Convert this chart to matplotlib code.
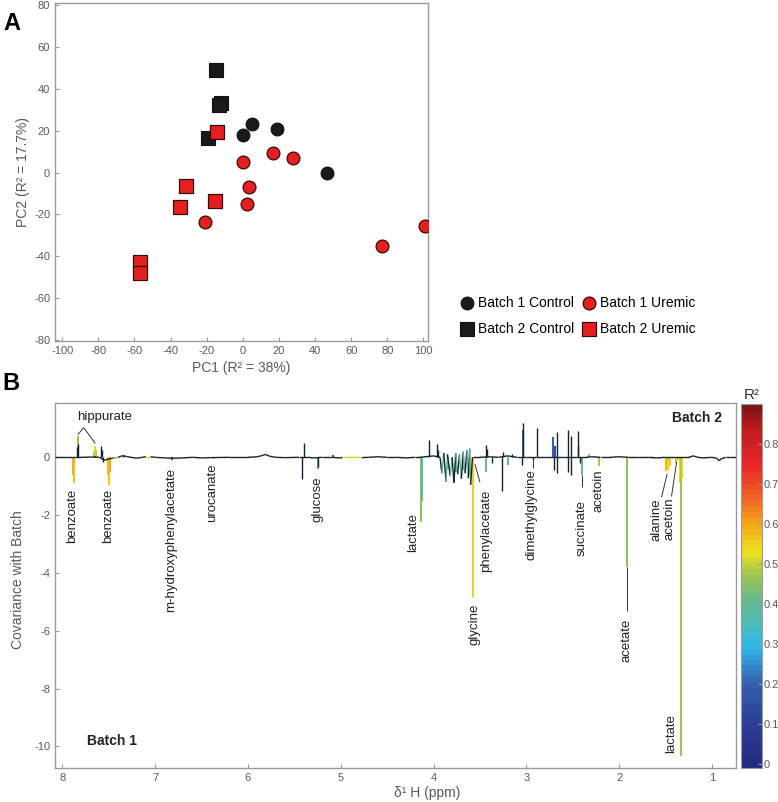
import numpy as np
import matplotlib
matplotlib.use('Agg')
import matplotlib.pyplot as plt
from matplotlib.colors import LinearSegmentedColormap, Normalize
from matplotlib.collections import LineCollection
from matplotlib.cm import ScalarMappable

plt.rcParams['font.family'] = ['Liberation Sans', 'DejaVu Sans']
plt.rcParams['axes.unicode_minus'] = False

# ---- panel A: PCA scores ----
b1_ctrl_pc1 = [0, 5, 19, 46.5]
b1_ctrl_pc2 = [18, 23, 20.5, 0]
b1_ure_pc1 = [-21, 0, 3.5, 2.5, 16.5, 27.5, 77, 101]
b1_ure_pc2 = [-23.5, 5, -7, -15, 9.5, 7, -35, -25.5]
b2_ctrl_pc1 = [-15, -12, -13, -19.5]
b2_ctrl_pc2 = [49, 33, 32, 16.5]
b2_ure_pc1 = [-14.5, -31.5, -35, -15.5, -57, -57]
b2_ure_pc2 = [19.5, -6.5, -16.5, -13.5, -42.5, -48]

# ---- panel B: covariance spectrum (ppm, covariance, R2) ----
peak_ppm = [7.89, 7.88, 7.87, 7.835, 7.83, 7.845, 7.655, 7.645, 7.635, 7.646,
            7.585, 7.575, 7.565, 7.51, 7.50, 7.49, 7.43, 7.35, 6.82, 6.37,
            5.42, 5.40, 5.25, 5.245, 5.085,
            4.14, 4.13, 4.12, 4.05, 3.96, 3.95, 3.84, 3.76, 3.68, 3.61,
            3.575, 3.57, 3.435, 3.43, 3.42, 3.37, 3.265, 3.25, 3.20, 3.15,
            3.04, 3.035, 3.05, 2.925, 2.88, 2.71, 2.705, 2.69, 2.67, 2.665,
            2.555, 2.55, 2.52, 2.515, 2.44, 2.445, 2.425, 2.40, 2.32, 2.22,
            1.92, 1.64, 1.49, 1.475, 1.455, 1.39, 1.37, 1.34, 1.33, 1.32]
peak_cov = [-0.6, -0.89, -0.5, 0.74, 0.45, 0.35, 0.2, 0.4, 0.25, 0.06,
            0.4, 0.25, -0.15, -0.6, -0.97, -0.5, -0.06, 0.08, -0.1, -0.05,
            -0.76, 0.51, -0.42, -0.35, 0.08,
            -1.2, -2.25, -1.5, 0.59, 0.47, 0.25, -0.4, -0.5, -0.45, -0.6,
            -1.0, -4.85, 0.42, -0.5, 0.3, -0.2, -1.15, 0.2, -0.25, 0.1,
            1.2, 0.95, -0.25, -0.1, 1.02, 0.71, -0.45, 0.4, 0.88, -0.54,
            0.94, -0.5, 0.73, -0.6, 0.9, 0.4, -0.2, -0.62, 0.1, -0.31,
            -3.81, 0.05, -0.49, -0.45, -0.3, -0.2, -0.1, -0.9, -10.35, -0.7]
peak_r2 = [0.6, 0.57, 0.58, 0.47, 0.0, 0.0, 0.45, 0.52, 0.5, 0.75,
           0.0, 0.0, 0.0, 0.58, 0.57, 0.6, 0.45, 0.0, 0.75, 0.55,
           0.0, 0.0, 0.42, 0.0, 0.75,
           0.52, 0.45, 0.4, 0.0, 0.0, 0.0, 0.4, 0.4, 0.42, 0.45,
           0.62, 0.55, 0.0, 0.42, 0.0, 0.0, 0.0, 0.0, 0.42, 0.0,
           0.0, 0.2, 0.0, 0.0, 0.0, 0.2, 0.0, 0.15, 0.0, 0.0,
           0.0, 0.0, 0.0, 0.0, 0.0, 0.0, 0.0, 0.42, 0.45, 0.48,
           0.45, 0.55, 0.58, 0.55, 0.55, 0.5, 0.55, 0.53, 0.47, 0.55]

base_ppm = [8.08, 7.95, 7.9, 7.86, 7.8, 7.7, 7.6, 7.55, 7.45, 7.4, 7.35, 7.3,
            7.2, 7.1, 7.05, 7.0, 6.9, 6.8, 6.7, 6.6, 6.5, 6.4, 6.2, 6.0,
            5.9, 5.85, 5.81, 5.77, 5.7, 5.6, 5.45, 5.35, 5.3, 5.2, 5.1, 5.0,
            4.98, 4.85, 4.77, 4.7, 4.6, 4.5, 4.4, 4.3, 4.2, 4.15, 4.0,
            3.93, 3.91, 3.89, 3.865, 3.85, 3.82, 3.80, 3.78, 3.76, 3.74,
            3.72, 3.70, 3.68, 3.66, 3.64, 3.625, 3.61, 3.60, 3.58,
            3.5, 3.4, 3.3, 3.2, 3.1, 3.0, 2.9, 2.8, 2.6, 2.45, 2.35, 2.3,
            2.2, 2.1, 2.0, 1.9, 1.8, 1.7, 1.6, 1.5, 1.4, 1.3, 1.25, 1.2,
            1.15, 1.1, 1.0, 0.95, 0.92, 0.9, 0.85, 0.8, 0.74]
base_cov = [0.0, 0.0, 0.0, 0.0, 0.0, 0.01, 0.0, -0.1, -0.02, 0.0, 0.06, 0.02,
            -0.03, 0.02, 0.02, 0.0, -0.02, -0.03, -0.02, 0.0, -0.02, -0.01, 0.0, 0.0,
            0.02, 0.06, 0.1, 0.04, 0.0, -0.01, 0.0, 0.0, -0.02, 0.0, 0.0, -0.02,
            0.0, 0.0, -0.01, 0.0, 0.02, 0.0, 0.0, -0.02, 0.0, 0.0, 0.05,
            0.0, -0.55, 0.15, -0.85, 0.1, -0.65, 0.0, -0.88, 0.15, -0.58,
            0.1, -0.74, 0.2, -0.55, 0.25, -0.72, 0.3, -0.95, 0.0,
            0.0, 0.02, 0.0, 0.05, 0.0, 0.0, 0.0, 0.0, 0.0, 0.0, 0.0, 0.02,
            0.0, 0.0, 0.02, 0.0, 0.0, 0.0, -0.02, 0.0, 0.0, 0.0, 0.0, 0.05,
            0.0, -0.02, 0.0, -0.03, -0.12, -0.05, 0.0, 0.0, 0.0]
base_r2 = [0.0, 0.0, 0.0, 0.0, 0.0, 0.0, 0.0, 0.0, 0.45, 0.0, 0.0, 0.0,
           0.0, 0.55, 0.0, 0.0, 0.0, 0.0, 0.0, 0.0, 0.0, 0.0, 0.0, 0.0,
           0.0, 0.0, 0.0, 0.0, 0.0, 0.0, 0.0, 0.0, 0.0, 0.0, 0.0, 0.0,
           0.55, 0.55, 0.0, 0.0, 0.0, 0.0, 0.0, 0.0, 0.0, 0.0, 0.0,
           0.0, 0.38, 0.0, 0.4, 0.0, 0.38, 0.0, 0.0, 0.4, 0.0,
           0.38, 0.0, 0.4, 0.0, 0.38, 0.0, 0.4, 0.0, 0.0,
           0.0, 0.0, 0.0, 0.0, 0.0, 0.0, 0.0, 0.0, 0.0, 0.0, 0.0, 0.0,
           0.0, 0.0, 0.0, 0.0, 0.0, 0.0, 0.0, 0.0, 0.0, 0.0, 0.0, 0.0,
           0.0, 0.0, 0.0, 0.0, 0.0, 0.0, 0.0, 0.0, 0.0]

pc_ticks = [-100, -80, -60, -40, -20, 0, 20, 40, 60, 80, 100]
pc2_ticks = [-80, -60, -40, -20, 0, 20, 40, 60, 80]
ppm_ticks = [8, 7, 6, 5, 4, 3, 2, 1]
cov_ticks = [0, -2, -4, -6, -8, -10]
r2_ticks = [0, 0.1, 0.2, 0.3, 0.4, 0.5, 0.6, 0.7, 0.8]

# ---- styling ----
GRAY = '#5a5a5a'
SPINE = '#9a9a9a'
DARK = '#17212e'
RED = '#e3201f'

vmin, vmax = -0.01, 0.9
r2_anchor = [(vmin, '#262a80'), (0.1, '#2b3f98'), (0.2, '#3562ae'), (0.29, '#2fb8ec'),
             (0.35, '#4dbcb6'), (0.41, '#67b98e'), (0.48, '#a7c74a'), (0.53, '#ebe21f'),
             (0.6, '#f6a81c'), (0.68, '#ee5a24'), (0.75, '#e8282a'), (0.84, '#c01b1f'),
             (vmax, '#7d1416')]
cmap = LinearSegmentedColormap.from_list(
    'r2', [((v - vmin) / (vmax - vmin), c) for v, c in r2_anchor], N=64)
norm = Normalize(vmin=vmin, vmax=vmax)


def r2_color(v):
    return DARK if v < 0.05 else cmap(norm(v))


def style_axes(ax):
    for s in ax.spines.values():
        s.set_color(SPINE)
        s.set_linewidth(1.0)
    ax.tick_params(direction='in', length=3, color=SPINE, labelcolor=GRAY,
                   labelsize=8, top=False, right=False)


fig = plt.figure(figsize=(7.78, 8.02), dpi=100)

# ================= panel A =================
ax1 = fig.add_axes([0.0707, 0.5748, 0.4794, 0.4215])
h_b2c = ax1.scatter(b2_ctrl_pc1, b2_ctrl_pc2, marker='s', s=95, c='#1a1a1a',
                    edgecolors='#111111', linewidths=0.8, zorder=3)
h_b1c = ax1.scatter(b1_ctrl_pc1, b1_ctrl_pc2, marker='o', s=85, c='#1a1a1a',
                    edgecolors='#111111', linewidths=0.8, zorder=3)
h_b2u = ax1.scatter(b2_ure_pc1, b2_ure_pc2, marker='s', s=95, c=RED,
                    edgecolors='#3a0a0a', linewidths=0.9, zorder=4)
h_b1u = ax1.scatter(b1_ure_pc1, b1_ure_pc2, marker='o', s=85, c=RED,
                    edgecolors='#3a0a0a', linewidths=0.9, zorder=4)
ax1.set_xlim(-104, 102.5)
ax1.set_ylim(-80.3, 80.8)
ax1.set_xticks(pc_ticks)
ax1.set_yticks(pc2_ticks)
style_axes(ax1)
ax1.set_xlabel('PC1 (R² = 38%)', fontsize=10, color=GRAY)
ax1.set_ylabel('PC2 (R² = 17.7%)', fontsize=10, color=GRAY)
ax1.xaxis.set_label_coords(0.499, -0.058)
ax1.yaxis.set_label_coords(-0.067, 0.5)

fig.legend([h_b1c, h_b2c, h_b1u, h_b2u],
           ['Batch 1 Control', 'Batch 2 Control', 'Batch 1 Uremic', 'Batch 2 Uremic'],
           ncol=2, loc='upper left', bbox_to_anchor=(0.582, 0.638), frameon=False,
           fontsize=10, handletextpad=0.2, columnspacing=0.45, labelspacing=0.85,
           handlelength=1.2, borderaxespad=0)

fig.text(0.005, 0.971, 'A', fontsize=17, fontweight='bold', va='center')
fig.text(0.003, 0.522, 'B', fontsize=17, fontweight='bold', va='center')

# ================= panel B =================
ax2 = fig.add_axes([0.0707, 0.0424, 0.8753, 0.4551])
pp = np.array(peak_ppm)
pc = np.array(peak_cov)
pr = np.array(peak_r2)
dark = pr < 0.05
ax2.vlines(pp[~dark], 0, pc[~dark], colors=[r2_color(v) for v in pr[~dark]],
           linewidth=1.5, zorder=2)
ax2.vlines(pp[dark], 0, pc[dark], colors=DARK, linewidth=1.0, zorder=3)

pts = np.column_stack([base_ppm, base_cov])
segs = np.stack([pts[:-1], pts[1:]], axis=1)
ax2.add_collection(LineCollection(segs, colors=[r2_color(v) for v in base_r2[:-1]],
                                  linewidths=1.0, zorder=4))

ax2.set_xlim(8.08, 0.74)
ax2.set_ylim(-10.75, 1.88)
ax2.set_xticks(ppm_ticks)
ax2.set_yticks(cov_ticks)
style_axes(ax2)
ax2.set_xlabel('δ¹ H (ppm)', fontsize=10, color=GRAY)
ax2.set_ylabel('Covariance with Batch', fontsize=10, color=GRAY)
ax2.xaxis.set_label_coords(0.546, -0.05)
ax2.yaxis.set_label_coords(-0.044, 0.515)

label_spots = [
    ('benzoate', 7.896, -1.08), ('benzoate', 7.508, -1.08),
    ('m-hydroxyphenylacetate', 6.829, -0.35), ('urocanate', 6.388, -0.21),
    ('glucose', 5.246, -0.66), ('lactate', 4.217, -1.94),
    ('glycine', 3.56, -5.07), ('phenylacetate', 3.434, -1.11),
    ('dimethylglycine', 2.942, -0.42), ('succinate', 2.403, -1.49),
    ('acetoin', 2.224, -0.42), ('acetate', 1.919, -5.59),
    ('alanine', 1.596, -1.42), ('acetoin', 1.46, -1.39),
    ('lactate', 1.435, -8.89),
]
for name, x, y in label_spots:
    ax2.text(x, y, name, rotation=90, ha='center', va='top', fontsize=9.5,
             color='#222222', zorder=5)
ax2.text(7.548, 1.39, 'hippurate', ha='center', va='center', fontsize=9.5,
         color='#222222')

leaders = [((7.771, 1.03), (7.835, 0.78)), ((7.771, 1.03), (7.645, 0.48)),
           ((3.50, -0.86), (3.553, -0.24)), ((2.925, -0.1), (2.925, -0.38)),
           ((2.40, -0.62), (2.40, -1.03)), ((1.92, -3.81), (1.92, -5.31)),
           ((1.542, -1.38), (1.482, -0.57)), ((1.435, -1.35), (1.38, -0.16))]
ax2.add_collection(LineCollection(leaders, colors='#333333', linewidths=0.7, zorder=5))

ax2.text(7.73, -9.83, 'Batch 1', fontsize=10, fontweight='bold', va='center',
         color='#222222')
ax2.text(0.893, 1.35, 'Batch 2', fontsize=10, fontweight='bold', va='center',
         ha='right', color='#222222')

# colorbar
cax = fig.add_axes([0.9524, 0.0424, 0.027, 0.4539])
sm = ScalarMappable(norm=norm, cmap=cmap)
cb = fig.colorbar(sm, cax=cax, ticks=r2_ticks)
cb.ax.set_yticklabels(['0', '0.1', '0.2', '0.3', '0.4', '0.5', '0.6', '0.7', '0.8'])
cb.outline.set_edgecolor(SPINE)
cb.ax.tick_params(direction='in', length=3, color=SPINE, labelcolor=GRAY,
                  labelsize=8, pad=1)
cb.ax.text(0.5, 1.005, 'R²', transform=cb.ax.transAxes, ha='center', va='bottom',
           fontsize=11, color='#333333')

fig.savefig('out.png', dpi=100)
